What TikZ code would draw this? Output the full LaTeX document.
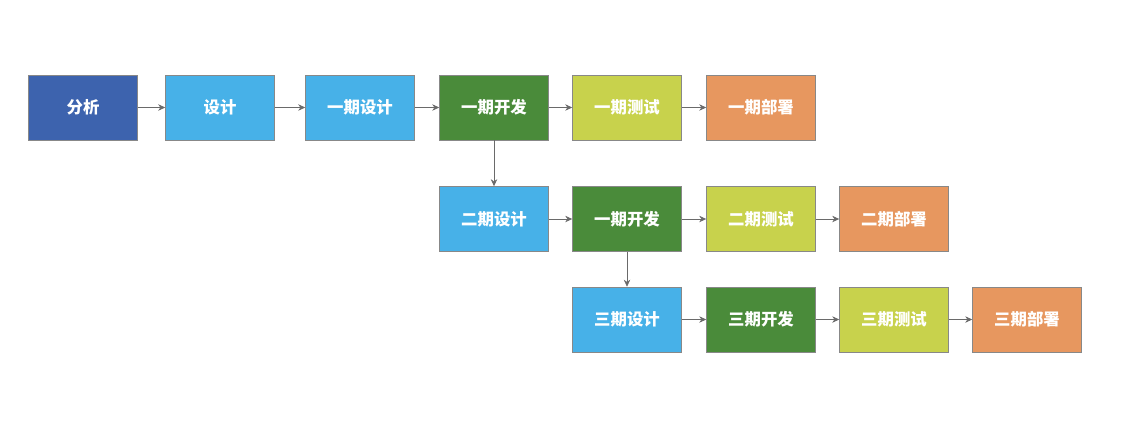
\documentclass[tikz,border=0pt]{standalone}
\usepackage{fontspec}
\setmainfont{Noto Sans CJK SC}
\usetikzlibrary{arrows.meta}
\definecolor{fxblue}{HTML}{3D63AE}
\definecolor{sjblue}{HTML}{47B1E8}
\definecolor{kfgreen}{HTML}{4A8B3A}
\definecolor{csyellow}{HTML}{C8D24C}
\definecolor{bsorange}{HTML}{E7975F}
\definecolor{edgegray}{HTML}{6A6A6A}
\begin{document}
\begin{tikzpicture}[x=.03cm,y=-.03cm,line width=.5pt,
  every node/.style={font=\bfseries\fontsize{14}{16}\selectfont,text=white,inner sep=1pt},
  box/.style={draw=edgegray!80,minimum width=3.27cm,minimum height=1.95cm},
  flow/.style={draw=edgegray,-{Stealth[length=6pt,width=5.5pt]}}]
  \path[use as bounding box] (0,0) rectangle (1123,447);
  % first row
  \node[box,fill=fxblue] (fx) at (83,107.5) {分析};
  \node[box,fill=sjblue] (sj) at (220,107.5) {设计};
  \node[box,fill=sjblue] (sj1) at (360,107.5) {一期设计};
  \node[box,fill=kfgreen] (kf1) at (494,107.5) {一期开发};
  \node[box,fill=csyellow] (cs1) at (627,107.5) {一期测试};
  \node[box,fill=bsorange] (bs1) at (761,107.5) {一期部署};
  % second row
  \node[box,fill=sjblue] (sj2) at (494,219) {二期设计};
  \node[box,fill=kfgreen] (kf2) at (627,219) {一期开发};
  \node[box,fill=csyellow] (cs2) at (761,219) {二期测试};
  \node[box,fill=bsorange] (bs2) at (894,219) {二期部署};
  % third row
  \node[box,fill=sjblue] (sj3) at (627,319.5) {三期设计};
  \node[box,fill=kfgreen] (kf3) at (761,319.5) {三期开发};
  \node[box,fill=csyellow] (cs3) at (894,319.5) {三期测试};
  \node[box,fill=bsorange] (bs3) at (1027,319.5) {三期部署};
  \draw[flow] (fx)--(sj);
  \draw[flow] (sj)--(sj1);
  \draw[flow] (sj1)--(kf1);
  \draw[flow] (kf1)--(cs1);
  \draw[flow] (cs1)--(bs1);
  \draw[flow] (kf1)--(sj2);
  \draw[flow] (sj2)--(kf2);
  \draw[flow] (kf2)--(cs2);
  \draw[flow] (cs2)--(bs2);
  \draw[flow] (kf2)--(sj3);
  \draw[flow] (sj3)--(kf3);
  \draw[flow] (kf3)--(cs3);
  \draw[flow] (cs3)--(bs3);
\end{tikzpicture}
\end{document}
